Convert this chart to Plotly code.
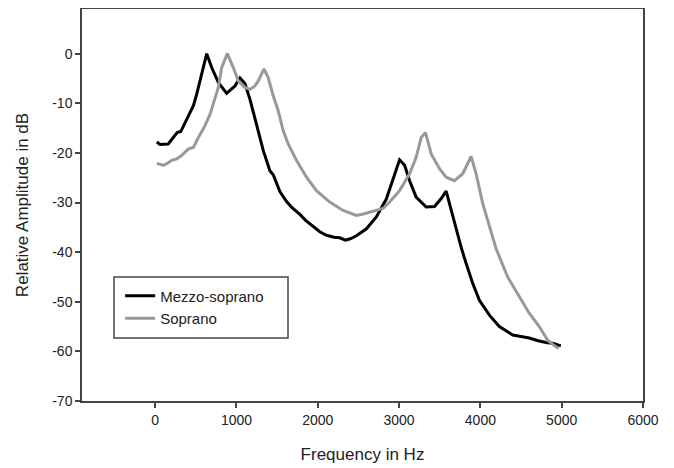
import plotly.graph_objects as go

# Mezzo-soprano spectrum
mezzo_hz = [20, 60, 160, 225, 270, 315, 350, 430, 470, 510, 560, 634, 695, 777, 879,
            982, 1043, 1104, 1166, 1248, 1329, 1411, 1452, 1534, 1616, 1680, 1780, 1850,
            1943, 2025, 2107, 2200, 2270, 2340, 2400, 2475, 2598, 2720, 2843, 2925, 3006,
            3068, 3129, 3210, 3333, 3436, 3518, 3579, 3640, 3702, 3763, 3825, 3906, 3988,
            4111, 4233, 4397, 4500, 4601, 4700, 4806, 4900, 4990]
mezzo_db = [-17.8, -18.3, -18.2, -16.9, -15.9, -15.7, -14.5, -11.8, -10.5, -8.2, -4.8, 0.0,
            -2.8, -5.8, -8.0, -6.5, -4.9, -6.0, -9.2, -14.2, -19.5, -23.6, -24.4, -27.8,
            -29.8, -31.0, -32.4, -33.6, -34.9, -35.9, -36.6, -37.0, -37.1, -37.6, -37.3,
            -36.7, -35.3, -32.9, -29.3, -25.3, -21.4, -22.5, -25.6, -28.9, -30.9, -30.8,
            -29.2, -27.7, -31.6, -35.6, -39.0, -42.3, -46.3, -49.7, -52.7, -55.0, -56.7,
            -57.0, -57.3, -57.8, -58.2, -58.4, -58.9]

# Soprano spectrum
sop_hz = [20, 102, 160, 204, 266, 327, 409, 470, 531, 613, 675, 736, 777, 818, 888, 961,
          1022, 1104, 1166, 1227, 1268, 1337, 1390, 1452, 1513, 1574, 1636, 1738, 1861,
          1984, 2147, 2311, 2400, 2475, 2560, 2638, 2720, 2802, 2884, 2960, 3006, 3129,
          3210, 3272, 3325, 3395, 3497, 3579, 3681, 3783, 3886, 3947, 4029, 4090, 4193,
          4335, 4479, 4601, 4724, 4826, 4890, 4961]
sop_db = [-22.1, -22.5, -22.0, -21.5, -21.2, -20.5, -19.2, -18.9, -16.9, -14.5, -12.2, -9.2,
          -6.8, -2.8, 0.0, -2.8, -5.5, -6.8, -7.2, -6.5, -5.5, -3.1, -4.8, -8.5, -11.5,
          -15.5, -18.2, -21.5, -24.9, -27.6, -29.9, -31.6, -32.2, -32.6, -32.3, -31.9,
          -31.6, -31.2, -29.9, -28.5, -27.6, -24.2, -20.9, -16.9, -15.9, -20.2, -23.2,
          -24.9, -25.6, -24.2, -20.7, -24.2, -30.2, -33.6, -39.3, -45.0, -49.0, -52.3,
          -55.0, -57.7, -58.6, -59.4]

x_ticks = [0, 1000, 2000, 3000, 4000, 5000, 6000]
y_ticks = [0, -10, -20, -30, -40, -50, -60, -70]
y_labels = ['0', '-10', '-20', '-30', '-40', '-50', '-60', '-70']  # plain hyphens like the original

fig = go.Figure()
fig.add_trace(go.Scatter(x=mezzo_hz, y=mezzo_db, mode='lines', name='Mezzo-soprano',
                         line=dict(color='black', width=3)))
fig.add_trace(go.Scatter(x=sop_hz, y=sop_db, mode='lines', name='Soprano',
                         line=dict(color='#999999', width=3)))

axis_style = dict(showline=True, linecolor='#444444', linewidth=1.5, mirror=True,
                  ticks='outside', ticklen=5, tickcolor='#444444', tickwidth=1.5,
                  showgrid=False, zeroline=False, automargin=False,
                  tickfont=dict(size=14, color='#222222'))

# page body adds ~8px offset, so margins are shifted to land the plot box where the original has it
fig.update_layout(
    width=674, height=468,
    margin=dict(l=74, r=39, t=1, b=75),
    paper_bgcolor='white', plot_bgcolor='white',
    font=dict(family='Liberation Sans, Arial, sans-serif', color='#222222'),
    xaxis=dict(range=[-900, 6000], tickvals=x_ticks,
               title=dict(text='Frequency in Hz', font=dict(size=17), standoff=22),
               **axis_style),
    yaxis=dict(range=[-70, 9], tickvals=y_ticks, ticktext=y_labels,
               title=dict(text='Relative Amplitude in dB', font=dict(size=17), standoff=19),
               **axis_style),
    legend=dict(x=0.068, y=0.31, xanchor='left', yanchor='top',
                borderwidth=0, bgcolor='rgba(0,0,0,0)',
                font=dict(size=15), tracegroupgap=0),
    showlegend=True,
)

# legend frame
fig.add_shape(type='rect', xref='paper', yref='paper',
              x0=(114 - 82) / 561, x1=(288 - 82) / 561,
              y0=(401 - 338) / 392, y1=(401 - 277) / 392,
              line=dict(color='#444444', width=1.5), fillcolor='rgba(0,0,0,0)')

fig.write_html("out.html")
